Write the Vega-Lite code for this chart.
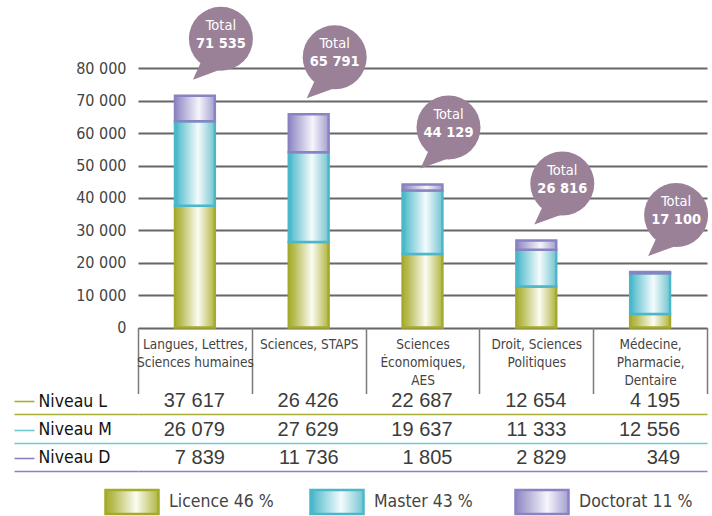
{
  "$schema": "https://vega.github.io/schema/vega-lite/v6.json",
  "padding": {"left": 13, "top": 6, "right": 0, "bottom": 0},
  "background": "white",
  "spacing": -4,
  "config": {
    "view": {"stroke": null},
    "font": "DejaVu Sans Condensed, sans-serif",
    "locale": {"number": {"decimal": ",", "thousands": " ", "grouping": [3], "currency": ["", " €"]}}
  },
  "datasets": {
    "main": [
      {"cat": "Langues, Lettres,\nSciences humaines", "level": "Licence", "niveau": "Niveau L", "ord": 1, "value": 37617},
      {"cat": "Sciences, STAPS", "level": "Licence", "niveau": "Niveau L", "ord": 1, "value": 26426},
      {"cat": "Sciences\nÉconomiques,\nAES", "level": "Licence", "niveau": "Niveau L", "ord": 1, "value": 22687},
      {"cat": "Droit, Sciences\nPolitiques", "level": "Licence", "niveau": "Niveau L", "ord": 1, "value": 12654},
      {"cat": "Médecine,\nPharmacie,\nDentaire", "level": "Licence", "niveau": "Niveau L", "ord": 1, "value": 4195},
      {"cat": "Langues, Lettres,\nSciences humaines", "level": "Master", "niveau": "Niveau M", "ord": 2, "value": 26079},
      {"cat": "Sciences, STAPS", "level": "Master", "niveau": "Niveau M", "ord": 2, "value": 27629},
      {"cat": "Sciences\nÉconomiques,\nAES", "level": "Master", "niveau": "Niveau M", "ord": 2, "value": 19637},
      {"cat": "Droit, Sciences\nPolitiques", "level": "Master", "niveau": "Niveau M", "ord": 2, "value": 11333},
      {"cat": "Médecine,\nPharmacie,\nDentaire", "level": "Master", "niveau": "Niveau M", "ord": 2, "value": 12556},
      {"cat": "Langues, Lettres,\nSciences humaines", "level": "Doctorat", "niveau": "Niveau D", "ord": 3, "value": 7839},
      {"cat": "Sciences, STAPS", "level": "Doctorat", "niveau": "Niveau D", "ord": 3, "value": 11736},
      {"cat": "Sciences\nÉconomiques,\nAES", "level": "Doctorat", "niveau": "Niveau D", "ord": 3, "value": 1805},
      {"cat": "Droit, Sciences\nPolitiques", "level": "Doctorat", "niveau": "Niveau D", "ord": 3, "value": 2829},
      {"cat": "Médecine,\nPharmacie,\nDentaire", "level": "Doctorat", "niveau": "Niveau D", "ord": 3, "value": 349}
    ]
  },
  "resolve": {"scale": {"x": "independent", "y": "independent"}},
  "vconcat": [
    {
      "width": 569,
      "height": 317.5,
      "data": {"name": "main"},
      "transform": [
        {"stack": "value", "groupby": ["cat"], "sort": [{"field": "ord", "order": "ascending"}], "as": ["v0", "v1"]}
      ],
      "encoding": {
        "x": {
          "field": "cat", "type": "nominal", "sort": null,
          "scale": {"domain": ["Langues, Lettres,\nSciences humaines", "Sciences, STAPS", "Sciences\nÉconomiques,\nAES", "Droit, Sciences\nPolitiques", "Médecine,\nPharmacie,\nDentaire"], "paddingInner": 0, "paddingOuter": 0},
          "axis": {
            "orient": "bottom", "title": null, "domain": false, "grid": false,
            "ticks": true, "tickBand": "extent", "tickSize": 66, "tickColor": "#7a7a7a", "tickWidth": 1.5,
            "labelExpr": "split(datum.label, '\\n')", "labelAngle": 0, "labelPadding": -56, "labelBaseline": "top",
            "labelFont": "DejaVu Sans Condensed, sans-serif", "labelFontSize": 13.5, "labelColor": "#444444",
            "labelLineHeight": 18, "labelLimit": 300, "labelOverlap": false
          }
        }
      },
      "layer": [
        {
          "transform": [{"filter": "datum.level === 'Licence'"}],
          "mark": {
            "type": "bar", "width": {"band": 0.35}, "stroke": "#a4aa2b", "strokeWidth": 2.5,
            "fill": {"gradient": "linear", "x1": 0, "y1": 0, "x2": 1, "y2": 0, "stops": [
              {"offset": 0, "color": "#a9ae33"}, {"offset": 0.12, "color": "#b4b94c"}, {"offset": 0.58, "color": "#fbfcf3"}, {"offset": 1, "color": "#b0b540"}]}
          },
          "encoding": {
            "y": {
              "field": "v0", "type": "quantitative",
              "scale": {"domain": [0, 98000], "nice": false},
              "axis": {
                "title": null, "values": [0, 10000, 20000, 30000, 40000, 50000, 60000, 70000, 80000], "format": ",d",
                "grid": true, "gridColor": "#666666", "gridWidth": 1.8, "domain": false, "ticks": false, "labelOverlap": false,
                "labelPadding": 12, "labelFont": "DejaVu Sans Condensed, sans-serif", "labelFontSize": 16, "labelColor": "#444444"
              }
            },
            "y2": {"field": "v1"}
          }
        },
        {
          "transform": [{"filter": "datum.level === 'Master'"}],
          "mark": {
            "type": "bar", "width": {"band": 0.35}, "stroke": "#4ab8c9", "strokeWidth": 2.5,
            "fill": {"gradient": "linear", "x1": 0, "y1": 0, "x2": 1, "y2": 0, "stops": [
              {"offset": 0, "color": "#3bb2c5"}, {"offset": 0.12, "color": "#6cc6d4"}, {"offset": 0.58, "color": "#f4fbfc"}, {"offset": 1, "color": "#74c4d1"}]}
          },
          "encoding": {
            "y": {
              "field": "v0", "type": "quantitative",
              "axis": {
                "title": null, "values": [0, 10000, 20000, 30000, 40000, 50000, 60000, 70000, 80000], "format": ",d",
                "grid": true, "gridColor": "#666666", "gridWidth": 1.8, "domain": false, "ticks": false, "labelOverlap": false,
                "labelPadding": 12, "labelFont": "DejaVu Sans Condensed, sans-serif", "labelFontSize": 16, "labelColor": "#444444"
              }
            },
            "y2": {"field": "v1"}
          }
        },
        {
          "transform": [{"filter": "datum.level === 'Doctorat'"}],
          "mark": {
            "type": "bar", "width": {"band": 0.35}, "stroke": "#8a83c2", "strokeWidth": 2.5,
            "fill": {"gradient": "linear", "x1": 0, "y1": 0, "x2": 1, "y2": 0, "stops": [
              {"offset": 0, "color": "#8c86c4"}, {"offset": 0.12, "color": "#a19cce"}, {"offset": 0.6, "color": "#f6f5fb"}, {"offset": 1, "color": "#a39fd0"}]}
          },
          "encoding": {
            "y": {
              "field": "v0", "type": "quantitative",
              "axis": {
                "title": null, "values": [0, 10000, 20000, 30000, 40000, 50000, 60000, 70000, 80000], "format": ",d",
                "grid": true, "gridColor": "#666666", "gridWidth": 1.8, "domain": false, "ticks": false, "labelOverlap": false,
                "labelPadding": 12, "labelFont": "DejaVu Sans Condensed, sans-serif", "labelFontSize": 16, "labelColor": "#444444"
              }
            },
            "y2": {"field": "v1"}
          }
        },
        {
          "transform": [{"aggregate": [{"op": "sum", "field": "value", "as": "total"}], "groupby": ["cat"]}],
          "mark": {"type": "point", "shape": "M -0.62 0.72 L -0.875 1.28 L -0.05 0.98 L 0 0 Z", "size": 4096, "filled": true, "fill": "#9a8198", "strokeWidth": 0, "opacity": 1, "xOffset": 26, "yOffset": -57},
          "encoding": {
            "y": {
              "field": "total", "type": "quantitative",
              "axis": {
                "title": null, "values": [0, 10000, 20000, 30000, 40000, 50000, 60000, 70000, 80000], "format": ",d",
                "grid": true, "gridColor": "#666666", "gridWidth": 1.8, "domain": false, "ticks": false, "labelOverlap": false,
                "labelPadding": 12, "labelFont": "DejaVu Sans Condensed, sans-serif", "labelFontSize": 16, "labelColor": "#444444"
              }
            }
          }
        },
        {
          "transform": [{"aggregate": [{"op": "sum", "field": "value", "as": "total"}], "groupby": ["cat"]}],
          "mark": {"type": "point", "shape": "circle", "size": 4096, "filled": true, "fill": "#9a8198", "strokeWidth": 0, "opacity": 1, "xOffset": 26, "yOffset": -57},
          "encoding": {
            "y": {
              "field": "total", "type": "quantitative",
              "axis": {
                "title": null, "values": [0, 10000, 20000, 30000, 40000, 50000, 60000, 70000, 80000], "format": ",d",
                "grid": true, "gridColor": "#666666", "gridWidth": 1.8, "domain": false, "ticks": false, "labelOverlap": false,
                "labelPadding": 12, "labelFont": "DejaVu Sans Condensed, sans-serif", "labelFontSize": 16, "labelColor": "#444444"
              }
            }
          }
        },
        {
          "transform": [{"aggregate": [{"op": "sum", "field": "value", "as": "total"}], "groupby": ["cat"]}],
          "mark": {"type": "text", "text": "Total", "color": "#ffffff", "font": "DejaVu Sans Condensed, sans-serif", "fontSize": 14.5, "align": "center", "baseline": "middle", "dx": 26, "dy": -70},
          "encoding": {
            "y": {
              "field": "total", "type": "quantitative",
              "axis": {
                "title": null, "values": [0, 10000, 20000, 30000, 40000, 50000, 60000, 70000, 80000], "format": ",d",
                "grid": true, "gridColor": "#666666", "gridWidth": 1.8, "domain": false, "ticks": false, "labelOverlap": false,
                "labelPadding": 12, "labelFont": "DejaVu Sans Condensed, sans-serif", "labelFontSize": 16, "labelColor": "#444444"
              }
            }
          }
        },
        {
          "transform": [{"aggregate": [{"op": "sum", "field": "value", "as": "total"}], "groupby": ["cat"]}],
          "mark": {"type": "text", "color": "#ffffff", "font": "DejaVu Sans Condensed, sans-serif", "fontSize": 14.5, "fontWeight": "bold", "align": "center", "baseline": "middle", "dx": 26, "dy": -52},
          "encoding": {
            "y": {
              "field": "total", "type": "quantitative",
              "axis": {
                "title": null, "values": [0, 10000, 20000, 30000, 40000, 50000, 60000, 70000, 80000], "format": ",d",
                "grid": true, "gridColor": "#666666", "gridWidth": 1.8, "domain": false, "ticks": false, "labelOverlap": false,
                "labelPadding": 12, "labelFont": "DejaVu Sans Condensed, sans-serif", "labelFontSize": 16, "labelColor": "#444444"
              }
            },
            "text": {"field": "total", "type": "quantitative", "format": ",d"}
          }
        }
      ]
    },
    {
      "width": 569,
      "height": 85,
      "data": {"name": "main"},
      "layer": [
        {
          "mark": {"type": "text", "align": "right", "baseline": "middle", "dx": 30, "dy": -13, "font": "Liberation Sans, Arial, sans-serif", "fontSize": 20, "color": "#3c3c3c"},
          "encoding": {
            "x": {
              "field": "cat", "type": "nominal", "sort": null,
              "scale": {"domain": ["Langues, Lettres,\nSciences humaines", "Sciences, STAPS", "Sciences\nÉconomiques,\nAES", "Droit, Sciences\nPolitiques", "Médecine,\nPharmacie,\nDentaire"], "paddingInner": 0, "paddingOuter": 0},
              "axis": null
            },
            "y": {
              "field": "niveau", "type": "nominal", "sort": null,
              "scale": {"domain": ["Niveau L", "Niveau M", "Niveau D"], "paddingInner": 0, "paddingOuter": 0},
              "axis": {
                "orient": "left", "title": null, "domain": false,
                "ticks": true, "tickSize": 124, "tickWidth": 1.6,
                "tickColor": {"condition": [{"test": "datum.value === 'Niveau L'", "value": "#a9ae36"}, {"test": "datum.value === 'Niveau M'", "value": "#6ec8d6"}], "value": "#8a82c1"},
                "grid": true, "gridWidth": 1.6,
                "gridColor": {"condition": [{"test": "datum.value === 'Niveau L'", "value": "#a9ae36"}, {"test": "datum.value === 'Niveau M'", "value": "#6ec8d6"}], "value": "#8a82c1"},
                "labelAlign": "left", "labelPadding": -24, "labelOffset": -13, "labelBaseline": "middle",
                "labelFont": "DejaVu Sans Condensed, sans-serif", "labelFontSize": 17.5, "labelColor": "#111111"
              }
            },
            "text": {"field": "value", "type": "quantitative", "format": ",d"}
          }
        },
        {
          "mark": {"type": "text", "text": ""},
          "encoding": {
            "y": {
              "field": "niveau", "type": "nominal", "sort": null,
              "axis": {
                "orient": "left", "title": null, "domain": false, "offset": 104, "tickOffset": -13,
                "ticks": true, "tickSize": 20, "tickWidth": 1.6, "labels": false, "grid": false,
                "tickColor": {"condition": [{"test": "datum.value === 'Niveau L'", "value": "#a9ae36"}, {"test": "datum.value === 'Niveau M'", "value": "#6ec8d6"}], "value": "#8a82c1"}
              }
            }
          }
        }
      ],
      "resolve": {"axis": {"y": "independent"}}
    },
    {
      "width": 410,
      "height": 30,
      "data": {"values": [
        {"level": "Licence", "label": "Licence 46 %"},
        {"level": "Master", "label": "Master 43 %"},
        {"level": "Doctorat", "label": "Doctorat 11 %"}
      ]},
      "encoding": {
        "x": {"field": "level", "type": "nominal", "sort": null, "scale": {"type": "point", "domain": ["Licence", "Master", "Doctorat"], "padding": 0}, "axis": null}
      },
      "layer": [
        {
          "transform": [{"filter": "datum.level === 'Licence'"}],
          "mark": {"type": "point", "shape": "M -1 -0.45 L 1 -0.45 L 1 0.45 L -1 0.45 Z", "size": 2809, "filled": true, "opacity": 1, "stroke": "#a4aa2b", "strokeWidth": 2.5, "xOffset": -6, "yOffset": 2,
            "fill": {"gradient": "linear", "x1": 0, "y1": 0, "x2": 1, "y2": 0, "stops": [
              {"offset": 0, "color": "#a9ae33"}, {"offset": 0.12, "color": "#b4b94c"}, {"offset": 0.58, "color": "#fbfcf3"}, {"offset": 1, "color": "#b0b540"}]}}
        },
        {
          "transform": [{"filter": "datum.level === 'Master'"}],
          "mark": {"type": "point", "shape": "M -1 -0.45 L 1 -0.45 L 1 0.45 L -1 0.45 Z", "size": 2809, "filled": true, "opacity": 1, "stroke": "#4ab8c9", "strokeWidth": 2.5, "xOffset": -6, "yOffset": 2,
            "fill": {"gradient": "linear", "x1": 0, "y1": 0, "x2": 1, "y2": 0, "stops": [
              {"offset": 0, "color": "#3bb2c5"}, {"offset": 0.12, "color": "#6cc6d4"}, {"offset": 0.58, "color": "#f4fbfc"}, {"offset": 1, "color": "#74c4d1"}]}}
        },
        {
          "transform": [{"filter": "datum.level === 'Doctorat'"}],
          "mark": {"type": "point", "shape": "M -1 -0.45 L 1 -0.45 L 1 0.45 L -1 0.45 Z", "size": 2809, "filled": true, "opacity": 1, "stroke": "#8a83c2", "strokeWidth": 2.5, "xOffset": -6, "yOffset": 2,
            "fill": {"gradient": "linear", "x1": 0, "y1": 0, "x2": 1, "y2": 0, "stops": [
              {"offset": 0, "color": "#8c86c4"}, {"offset": 0.12, "color": "#a19cce"}, {"offset": 0.6, "color": "#f6f5fb"}, {"offset": 1, "color": "#a39fd0"}]}}
        },
        {
          "mark": {"type": "text", "align": "left", "baseline": "middle", "dx": 31, "dy": 2, "font": "DejaVu Sans Condensed, sans-serif", "fontSize": 17.5, "color": "#444444"},
          "encoding": {"text": {"field": "label"}}
        }
      ]
    }
  ]
}
